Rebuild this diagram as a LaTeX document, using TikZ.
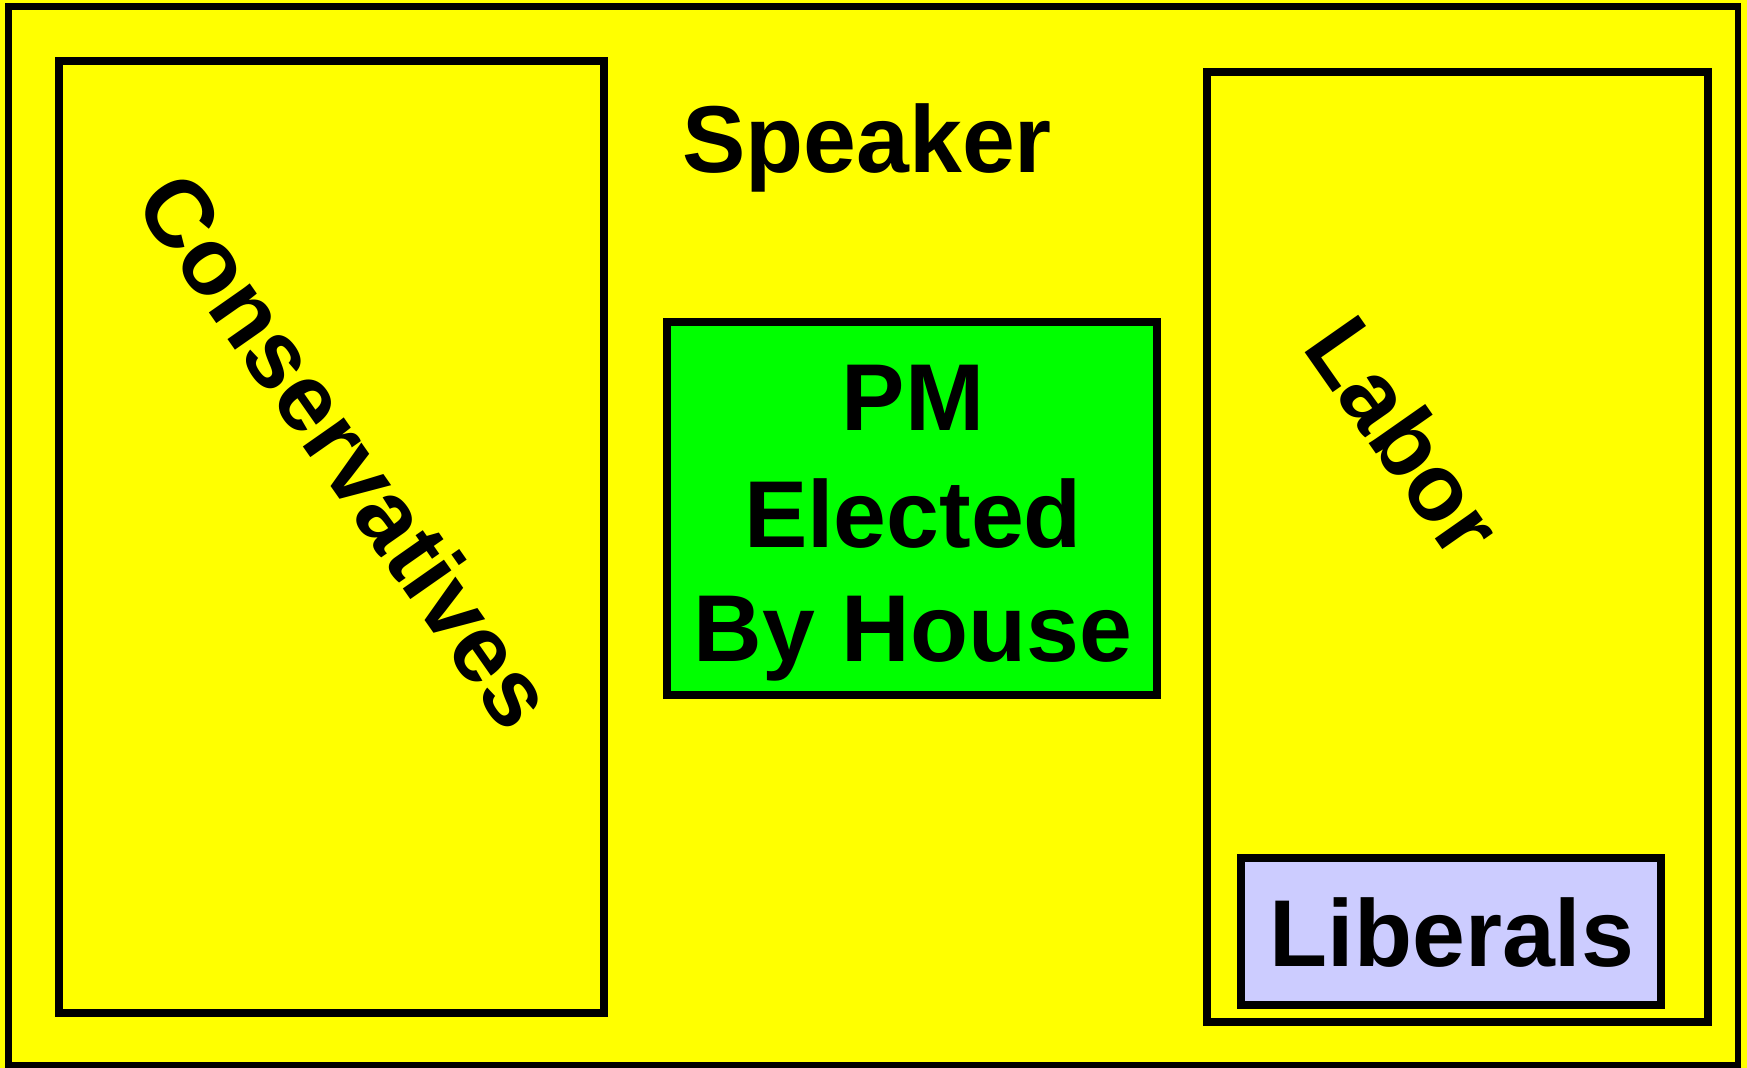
\documentclass[tikz,border=0pt]{standalone}
\usepackage{fontspec}
\setmainfont{Liberation Sans}
\definecolor{bgyellow}{HTML}{FFFF00}
\definecolor{pmgreen}{HTML}{00FF00}
\definecolor{libblue}{HTML}{CCCCFF}
\begin{document}
\begin{tikzpicture}[x=0.5pt,y=-0.5pt,
  frame/.style={draw=black,line width=3.8pt},
  label/.style={font=\fontsize{47.5}{57.5}\selectfont\bfseries,inner sep=0pt,text=black}]
\useasboundingbox (0,0) rectangle (1747,1068);
\fill[bgyellow] (0,0) rectangle (1747,1068);
% outer chamber
\draw[frame,line width=3.4pt] (8.5,6.5) rectangle (1738,1065);
% party boxes
\draw[frame] (59,61) rectangle (604,1013);
\draw[frame] (1207,72) rectangle (1708,1022);
\draw[frame,fill=pmgreen] (667,322) rectangle (1157,695);
\draw[frame,fill=libblue] (1241,858) rectangle (1661,1005);
% texts
\node[label,anchor=base] (speaker) at (867,173) {Speaker};
\node[label,anchor=base] (pm) at (913,431) {PM};
\node[label,anchor=base] (elected) at (913,548) {Elected};
\node[label,anchor=base] (byhouse) at (913,662) {By House};
\node[label,anchor=base] (liberals) at (1452,967) {Liberals};
\node[label,rotate=-55] (conservatives) at (347,450) {Conservatives};
\node[label,rotate=-55] (labor) at (1405,436) {Labor};
\end{tikzpicture}
\end{document}
